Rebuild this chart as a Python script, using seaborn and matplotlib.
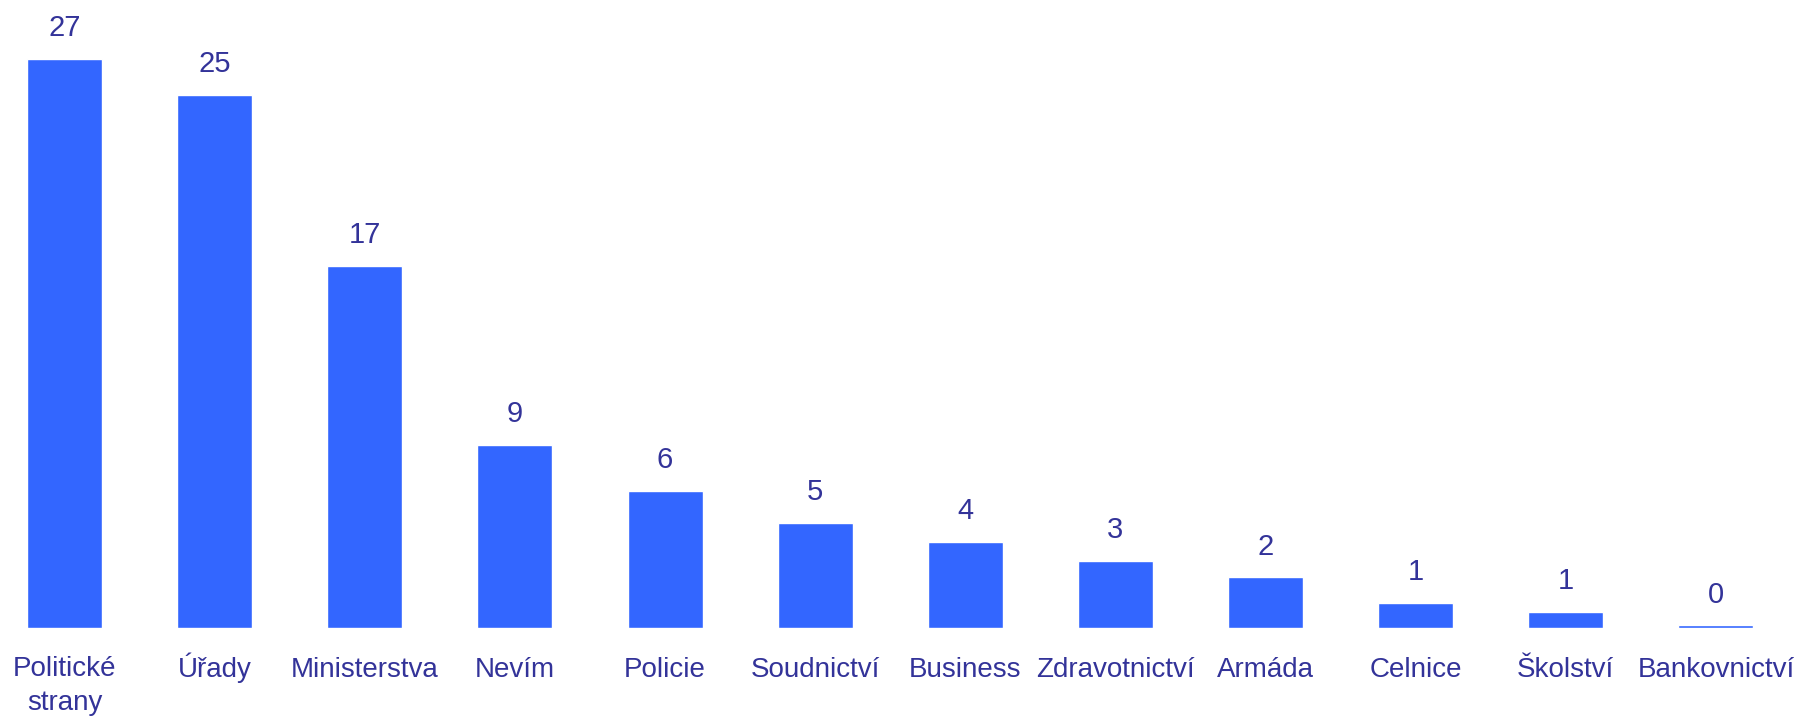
import matplotlib
matplotlib.use("Agg")
import matplotlib.pyplot as plt
import seaborn as sns
import pandas as pd

categories = ["Politické\nstrany", "Úřady", "Ministerstva", "Nevím", "Policie",
              "Soudnictví", "Business", "Zdravotnictví", "Armáda", "Celnice",
              "Školství", "Bankovnictví"]
values = [27.0, 25.3, 17.2, 8.7, 6.5, 5.0, 4.1, 3.2, 2.4, 1.2, 0.76, 0.12]
value_labels = ["27", "25", "17", "9", "6", "5", "4", "3", "2", "1", "1", "0"]

sns.set_theme(style="white")
plt.rcParams["font.family"] = ["Liberation Sans", "DejaVu Sans"]

BAR = "#3366FF"
TXT = "#333399"

fig = plt.figure(figsize=(17.94, 7.2), dpi=100)
ax = fig.add_axes([0, 92 / 720, 1, 628 / 720])

df = pd.DataFrame({"cat": categories, "val": values})
sns.barplot(data=df, x="cat", y="val", color=BAR, saturation=1, width=0.5, ax=ax)

ax.bar_label(ax.containers[0], labels=value_labels, padding=12,
             fontsize=21, color=TXT)

ax.set_xlim(-0.43, 11.52)
ax.set_ylim(0, 29.8)
ax.set_xlabel("")
ax.set_ylabel("")
ax.set_yticks([])
for s in ax.spines.values():
    s.set_visible(False)

ticks = ax.get_xticks()
ax.set_xticks(ticks)
ax.set_xticklabels([])
ax.tick_params(axis="x", length=0)
for x, lab in zip(ticks, categories):
    multi = "\n" in lab
    ax.annotate(lab, xy=(x, 0), xycoords=("data", "axes fraction"),
                xytext=(0, -20 if multi else -35), textcoords="offset points",
                ha="center", va="top" if multi else "baseline",
                fontsize=20, color=TXT, linespacing=1.4, annotation_clip=False)

fig.savefig("out.png", dpi=100)
